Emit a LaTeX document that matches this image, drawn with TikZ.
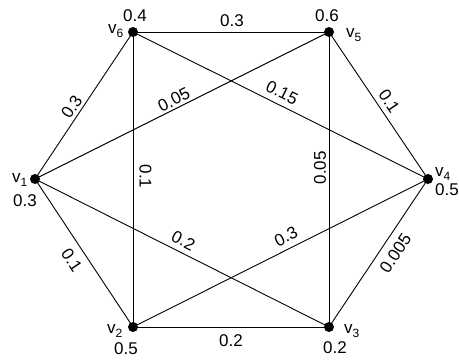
\documentclass[tikz,border=0pt]{standalone}
\usepackage{fontspec}
\setmainfont{Liberation Sans}
\newcommand{\vname}[1]{v\raisebox{-0.45ex}{\fontsize{12}{12}\selectfont #1}}
\begin{document}
\begin{tikzpicture}[x=1pt,y=-1pt,
  vertex/.style={circle,fill=black,inner sep=0pt,minimum size=10pt},
  txt/.style={inner sep=0pt,anchor=base west,font=\fontsize{17}{20}\selectfont},
  elab/.style={inner sep=0pt,sloped,font=\fontsize{17}{20}\selectfont},
  edge/.style={line width=0.9pt,black}]
\useasboundingbox (0,0) rectangle (459,362);
\node[vertex] (v1) at (35,179) {};
\node[vertex] (v2) at (133,327) {};
\node[vertex] (v3) at (329,327) {};
\node[vertex] (v4) at (428,179) {};
\node[vertex] (v5) at (329,32) {};
\node[vertex] (v6) at (133,32) {};
% vertex names
\node[txt] (n1) at (12,182) {\vname{1}};
\node[txt] (n2) at (107,333) {\vname{2}};
\node[txt] (n3) at (344,333) {\vname{3}};
\node[txt] (n4) at (435,176) {\vname{4}};
\node[txt] (n5) at (346,37) {\vname{5}};
\node[txt] (n6) at (108,33) {\vname{6}};
% vertex weights
\node[txt] (w1) at (13,206) {0.3};
\node[txt] (w2) at (114,354) {0.5};
\node[txt] (w3) at (323,353) {0.2};
\node[txt] (w4) at (435,195) {0.5};
\node[txt] (w5) at (315,21) {0.6};
\node[txt] (w6) at (123,21) {0.4};
% edges
\draw[edge] (v1.center) -- node[elab,pos=.455,above=3.1pt] {0.3} (v6.center);
\draw[edge] (v6.center) -- node[elab,pos=.505,above=4.9pt] {0.3} (v5.center);
\draw[edge] (v5.center) -- node[elab,pos=.512,above=5.1pt] {0.1} (v4.center);
\draw[edge] (v3.center) -- node[elab,pos=.552,below=7.6pt] {0.005} (v4.center);
\draw[edge] (v2.center) -- node[elab,pos=.5,below=6.9pt] {0.2} (v3.center);
\draw[edge] (v1.center) -- node[elab,pos=.496,below=7.7pt] {0.1} (v2.center);
\draw[edge] (v1.center) -- node[elab,pos=.486,above=2.4pt] {0.05} (v5.center);
\draw[edge] (v6.center) -- node[elab,pos=.487,above=5.8pt] {0.15} (v4.center);
\draw[edge] (v1.center) -- node[elab,pos=.487,above=5.1pt] {0.2} (v3.center);
\draw[edge] (v2.center) -- node[elab,pos=.537,above=5.7pt] {0.3} (v4.center);
\draw[edge] (v6.center) -- node[elab,pos=.49,above=5.9pt] {0.1} (v2.center);
\draw[edge] (v3.center) -- node[elab,pos=.54,above=2.4pt] {0.05} (v5.center);
\end{tikzpicture}
\end{document}
